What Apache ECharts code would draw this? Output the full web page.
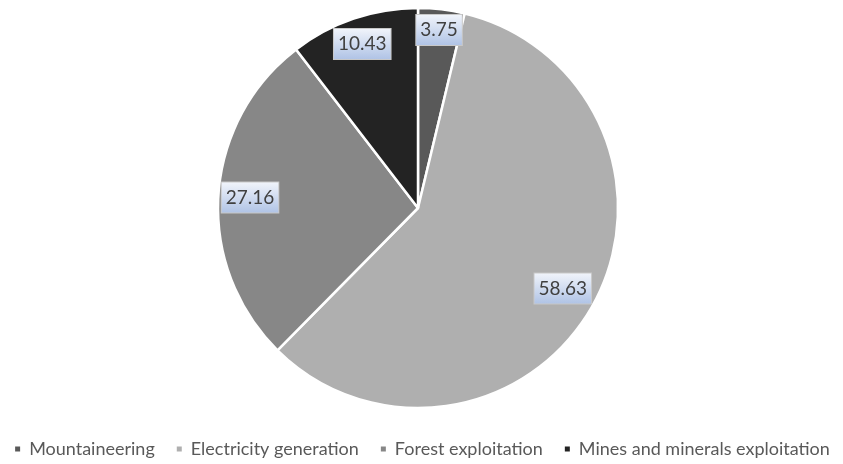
<!DOCTYPE html>
<html>
<head>
<meta charset="utf-8">
<script src="https://cdn.jsdelivr.net/npm/echarts@6/dist/echarts.min.js"></script>
<style>
  html, body { margin: 0; padding: 0; background: #fff; }
  #chart { width: 843px; height: 464px; }
</style>
</head>
<body>
<div id="chart"></div>
<script>
const categories = ['Mountaineering', 'Electricity generation', 'Forest exploitation', 'Mines and minerals exploitation'];
const values = [3.75, 58.63, 27.16, 10.43];
const colors = ['#595959', '#afafaf', '#878787', '#232323'];

const CX = 418;
const CY = 208;
const R = 200;

const total = values.reduce((a, b) => a + b, 0);
// mid angle of each slice, clockwise from 12 o'clock
const midAngles = [];
let acc = 0;
values.forEach((v) => {
  midAngles.push(((acc + v / 2) / total) * Math.PI * 2);
  acc += v;
});

// Excel "inside end": push the label box out until its far corner touches the rim
function labelPos(index, w, h) {
  const ux = Math.sin(midAngles[index]);
  const uy = -Math.cos(midAngles[index]);
  const a = Math.abs(ux);
  const b = Math.abs(uy);
  const rim = R - 1;
  const p = a * w + b * h;
  const c = (w * w + h * h) / 4 - rim * rim;
  const d = (-p + Math.sqrt(p * p - 4 * c)) / 2;
  return { x: CX + d * ux, y: CY + d * uy };
}

const chart = echarts.init(document.getElementById('chart'));
chart.setOption({
  animation: false,
  backgroundColor: '#fff',
  color: colors,
  legend: {
    bottom: 1,
    left: 'center',
    icon: 'rect',
    itemWidth: 7,
    itemHeight: 7,
    itemGap: 20,
    textStyle: { color: '#595959', fontSize: 18, fontFamily: 'Lato', padding: [0, 0, 0, 3] },
    data: categories,
  },
  series: [{
    type: 'pie',
    center: [CX, CY],
    radius: [0, R],
    startAngle: 90,
    clockwise: true,
    itemStyle: { borderColor: '#fff', borderWidth: 2.5 },
    label: {
      show: true,
      position: 'inside',
      formatter: (p) => p.value.toFixed(2),
      color: '#404040',
      fontSize: 19,
      fontFamily: 'Lato',
      padding: [6, 4, 5, 4],
      borderColor: '#c8c8c8',
      borderWidth: 1,
      backgroundColor: {
        type: 'linear', x: 0, y: 0, x2: 0, y2: 1,
        colorStops: [
          { offset: 0, color: '#f2f5fb' },
          { offset: 1, color: '#aec2e5' },
        ],
      },
    },
    labelLine: { show: false },
    labelLayout: (params) => {
      const rect = params.labelRect;
      const pos = labelPos(params.dataIndex, rect.width, rect.height);
      return { x: pos.x, y: pos.y, align: 'center', verticalAlign: 'middle' };
    },
    data: categories.map((name, i) => ({ name, value: values[i] })),
  }],
});
</script>
</body>
</html>
